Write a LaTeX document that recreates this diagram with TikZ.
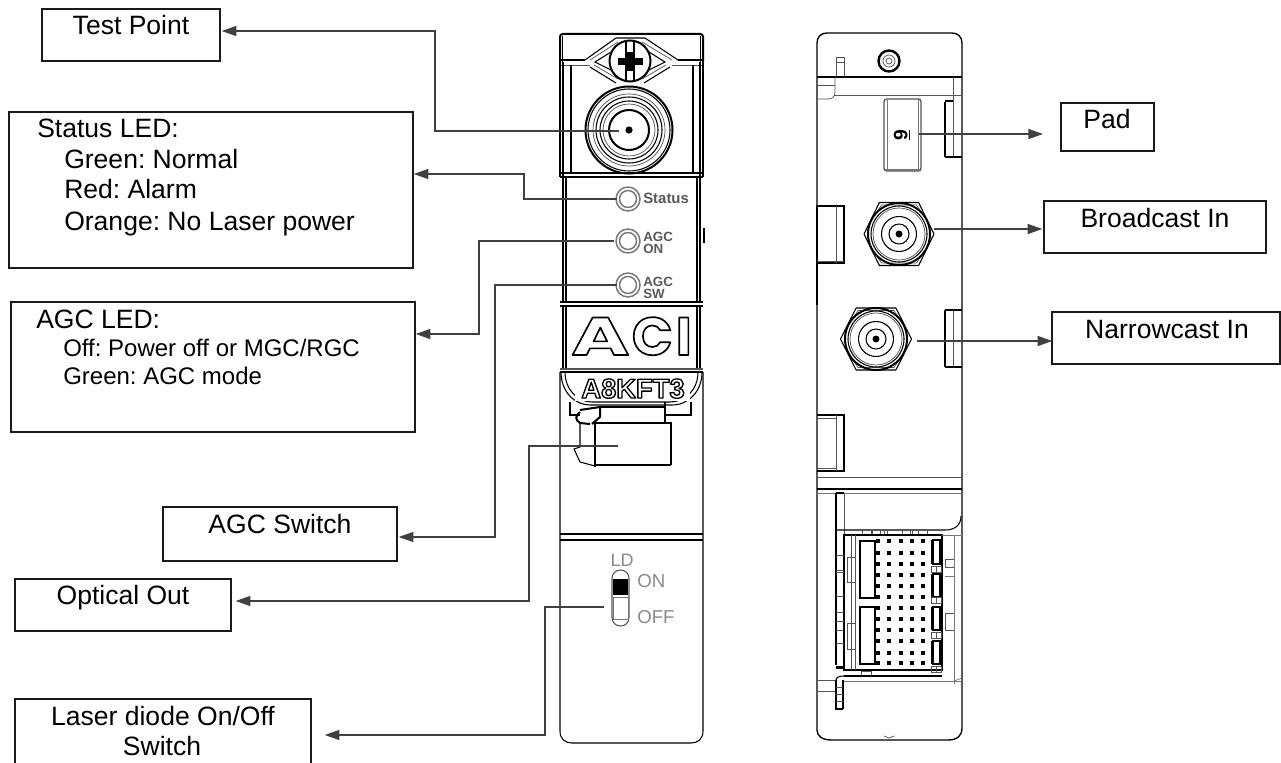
\documentclass[tikz,border=0pt]{standalone}
\usepackage{fontspec}
\setmainfont{Liberation Sans}
\newfontfamily\logofont{Poppins}[UprightFont=* Bold]
\usetikzlibrary{arrows.meta,calc}
\definecolor{conn}{HTML}{404040}
\definecolor{boxc}{HTML}{1A1A1A}
\definecolor{devg}{HTML}{555555}
\definecolor{ledg}{HTML}{777777}
\definecolor{lblg}{HTML}{8A8A8A}
\newcommand{\pxs}{0.75pt}
\newcommand{\outlinetext}[2]{\special{pdf:code q 1 Tr #1 w 1 j}#2\special{pdf:code Q}}
\frenchspacing
\tikzset{
  lbox/.style={draw=boxc,line width=1.1pt,fill=none,inner sep=0pt},
  ltxt/.style={anchor=base,inner sep=0pt,font=\fontsize{19.9}{20}\selectfont},
  ltxl/.style={anchor=base west,inner sep=0pt,font=\fontsize{19.9}{20}\selectfont},
  lsub/.style={anchor=base west,inner sep=0pt,font=\fontsize{18}{20}\selectfont},
  arr/.style={draw=conn,line width=1.1pt,-{Triangle[length=11pt,width=7.5pt]}},
  dev/.style={draw=black,line width=0.8pt},
  devt/.style={draw=black,line width=1.5pt},
  devf/.style={draw=devg,line width=0.55pt},
  devl/.style={draw=ledg,line width=0.5pt},
  led/.style={draw=ledg,line width=1.1pt},
  ledt/.style={inner sep=0pt,text=black!65,font=\fontsize{10}{10}\selectfont\bfseries,anchor=base west},
  lsw/.style={inner sep=0pt,text=lblg,font=\fontsize{14}{14}\selectfont},
}
% name, x1, y1, x2, y2 in pixels
\newcommand{\labelbox}[5]{%
  \node[lbox,minimum width={(#4-#2)*\pxs},minimum height={(#5-#3)*\pxs}] (#1) at ({(#2+#4)/2},{(#3+#5)/2}) {};}
\newcommand{\hexnut}[5]{% name cx cy halfwidth halfheight
  \begin{scope}[shift={(#2,#3)}]
    \draw[dev,line join=round] (-#4,0) -- ({-#4*.56},-#5) -- ({#4*.56},-#5) -- (#4,0) -- ({#4*.56},#5) -- ({-#4*.56},#5) -- cycle;
    \draw[devf] ({-#4*.88},{-#5*.3}) -- ({-#4*.5},{-#5*.92}) -- ({#4*.5},{-#5*.92}) -- ({#4*.88},{-#5*.3});
    \draw[devf] ({-#4*.88},{#5*.3}) -- ({-#4*.5},{#5*.92}) -- ({#4*.5},{#5*.92}) -- ({#4*.88},{#5*.3});
    \draw[devt] (0,0) circle[radius=31];
    \draw[dev] (0,0) circle[radius=28];
    \draw[devf] (0,0) circle[radius=26];
    \draw[dev] (0,0) circle[radius=17.5];
    \draw[dev] (0,0) circle[radius=10];
    \fill[black] (0,0) circle[radius=3.5];
    \node[inner sep=0pt,minimum size=0pt] (#1) at (0,0) {};
  \end{scope}}
\begin{document}
\begin{tikzpicture}[x=0.75pt,y=-0.75pt]
\useasboundingbox (0,0) rectangle (1281,763);
\fill[white] (0,0) rectangle (1281,763);

%% ================= FRONT VIEW =================
% top band
\draw[devt,rounded corners=2pt] (560,62) -- (560,34) -- (703,34) -- (703,62);
\draw[dev] (562.5,36) -- (562.5,62) (700.5,36) -- (700.5,62);
\draw[dev] (560,60) -- (585,60) (678,60) -- (703,60);
\draw[devf] (560,65) -- (590,65) (672,65) -- (703,65);
% wings around the screw
\draw[dev] (585,60) -- (616,38) -- (645,38) -- (678,60);
\draw[devf] (590,60) -- (618,42) (642,42) -- (672,60);
\draw[dev] (595,62) -- (611,52) -- (611,70) -- cycle;
\draw[dev] (665,62) -- (649,52) -- (649,70) -- cycle;
\draw[dev] (590,67) -- (616,83) (670,67) -- (644,83);
\draw[devf] (594,65) -- (618,79) (666,65) -- (642,79);
% screw
\draw[devt,fill=white] (630,61) circle[radius=20.5];
\draw[dev] (626,41) -- (626,81) (634,41) -- (634,81);
\fill[black] (618,58) rectangle (643,65.5);
\fill[black] (625.5,52) rectangle (634.5,71);
% body walls of connector part
\draw[dev] (560,62) -- (560,177) (563,62) -- (563,177) (703,62) -- (703,177) (700,62) -- (700,177);
\draw[dev] (571,65) -- (571,173) (693,65) -- (693,173);
% test point connector
\draw[devt] (629,130) circle[radius=43.5];
\draw[dev] (629,130) circle[radius=41];
\draw[devf] (629,130) circle[radius=36];
\draw[dev] (629,130) circle[radius=33];
\draw[dev] (629,130) circle[radius=29];
\draw[devf] (629,130) circle[radius=26];
\draw[devt] (629,130) circle[radius=20];
\fill[black] (629,130) circle[radius=3.6];
\node[inner sep=0pt,minimum size=0pt] (tpc) at (619,131) {};
% separators
\draw[devt] (560,173) -- (703,173);
\draw[dev] (560,177) -- (703,177);
% LED panel
\draw[dev] (563,177) -- (563,302) (566,177) -- (566,302);
\draw[dev] (700,177) -- (700,302) (697,177) -- (697,302);
\draw[line width=1.2pt] (704,228) -- (704,243);
\draw[devt] (560,302) -- (703,302);
\draw[dev] (560,306) -- (703,306);
% LEDs
\foreach \n/\y in {ledst/199,ledon/241,ledsw/285}{
  \draw[led] (628,\y) circle[radius=12];
  \draw[led] (628,\y) circle[radius=8.5];
  \node[inner sep=0pt,minimum size=0pt] (\n) at (628,\y) {};
}
\node[ledt,font=\fontsize{11.2}{11}\selectfont\bfseries] (lst) at (643,204) {Status};
\node[ledt] (lon1) at (643,241) {AGC};
\node[ledt] (lon2) at (643,253) {ON};
\node[ledt] (lsw1) at (643,286) {AGC};
\node[ledt] (lsw2) at (643,298) {SW};
% ACI panel
\draw[dev] (563,306) -- (563,369) (566,306) -- (566,369) (700,306) -- (700,369) (697,306) -- (697,369);
\node[inner sep=0pt,anchor=base west] (logo) at (571,355)
  {\logofont\fontsize{40}{40}\selectfont\outlinetext{1.25}{\makebox[45.5pt][l]{\addfontfeature{FakeStretch=1.48}A}\makebox[33pt][l]{C}I}};
\draw[devg,line width=1.1pt] (560,369) -- (703,369);
\draw[dev] (560,372) -- (703,372);
% rounded lower part of label
\draw[dev] (561,372) .. controls (561,392) and (575,405) .. (590,405) -- (672,405) .. controls (688,405) and (702,392) .. (702,372);
\draw[dev] (565,372) .. controls (565,390) and (578,402) .. (592,402) -- (670,402) .. controls (685,402) and (698,390) .. (698,372);
\fill[white] (575,374) rectangle (690,401);
\node[inner sep=0pt,anchor=base] (model) at (633,398)
  {\bfseries\fontsize{20.5}{21}\selectfont\outlinetext{1.0}{A8KFT3}};
% body below
\draw[dev] (560,372) -- (560,731) .. controls (560,739) and (565,743) .. (572,743) -- (691,743) .. controls (698,743) and (703,739) .. (703,731) -- (703,372);
% latch
\draw[dev] (570,402) -- (570,415) -- (580,415);
\draw[dev] (691,402) -- (691,415) -- (665,415);
\draw[dev] (600,407) -- (665,407);
\draw[devt] (665,402) -- (665,423);
\draw[devt] (580,412) .. controls (575,416) and (575,420) .. (580,423) -- (590,424);
\draw[devt] (580,410) -- (600,407) -- (600,417) -- (592,424);
\draw[dev] (580,423) -- (580,447) -- (574,449) -- (580,462) -- (595,466);
\draw[devt] (595,423) -- (671,423);
\draw[line width=2.2pt] (671,422) -- (671,465);
\draw[devt] (595,465) -- (671,465);
\draw[dev] (595,423) -- (595,467);
% divider
\draw[devt] (560,534) -- (703,534);
\draw[devt] (560,540) -- (703,540);
% LD switch
\node[lsw,font=\fontsize{13.5}{14}\selectfont] (ld) at (622,560) {LD};
\node[lsw,anchor=west] (son) at (637,581) {ON};
\node[lsw,anchor=west] (soff) at (637,617) {OFF};
\draw[draw=devg,line width=0.8pt,rounded corners=6.2pt] (612,570) rectangle (629,626);
\fill[black] (613,579) rectangle (628,595);
\draw[devl] (613,597) rectangle (628,619);
\node[inner sep=0pt,minimum size=0pt] (ldsw) at (604,607) {};

%% ================= BACK VIEW =================
\draw[dev,line width=1pt] (827,33) -- (952,33) .. controls (958,33) and (962,37) .. (962,43) -- (962,157);
\draw[dev,line width=1pt] (827,33) .. controls (821,33) and (817,37) .. (817,43) -- (817,99);
\draw[dev,line width=1pt] (817,99) -- (817,730) .. controls (817,736) and (822,740) .. (832,740) -- (948,740) .. controls (957,740) and (962,736) .. (962,728) -- (962,157);
\draw[line width=1pt,draw=black] (817,205) -- (817,305);
% top connector
\draw[line width=1.8pt] (889,61) circle[radius=10.5];
\draw[devf] (889,61) circle[radius=6];
\draw[devf] (889,61) circle[radius=3];
% top stripes
\draw[devf] (836,76) -- (836,57) -- (844,57) -- (844,76);
\draw[devf] (836,62) -- (844,62);
\draw[dev] (817,77) -- (962,77);
\draw[devf] (834,95) -- (962,95);
\draw[devf] (817,85) -- (835,85);
\draw[devf] (835,77) -- (835,92) .. controls (835,97) and (832,99) .. (828,99) -- (817,99);
\draw[devf] (953,77) -- (953,157);
\draw[dev] (945,102) -- (945,157);
\draw[dev] (945,101) -- (953,101);
\draw[dev] (945,157) -- (962,157);
% pad
\draw[draw=devg,line width=1pt,rounded corners=2pt] (884,99) rectangle (921,171);
\draw[devl] (887,100) -- (887,170) (918,100) -- (918,170);
\draw[devl,line width=1pt] (885,170) -- (920,170);
\node[inner sep=0pt,rotate=90,font=\fontsize{14.5}{15}\selectfont\bfseries] (pad9) at (902,135) {\underline{9}};
% left tab
\draw[dev] (817,206) -- (844,206) -- (844,263) -- (817,263);
\draw[devf] (836,206) -- (836,263);
\draw[devf] (817,261) -- (844,261);
% nuts
\hexnut{bnut}{899}{234}{35}{31.5}
\hexnut{nnut}{876}{339}{35.5}{31}
% second right tab
\draw[dev] (945,310) -- (945,367);
\draw[devf] (953,310) -- (953,367);
\draw[dev] (945,310) -- (962,310);
\draw[dev] (945,367) -- (962,367);
% third left tab
\draw[dev] (817,415) -- (844,415) -- (844,471) -- (817,471);
\draw[devf] (836,415) -- (836,471);
\draw[devf] (817,418) -- (836,418) (817,468) -- (836,468);
% stripes
\draw[devf] (817,477) -- (962,477);
\draw[dev] (817,489) -- (962,489);
\draw[devl] (817,493) -- (962,493);
% upper part of connector zone
\draw[dev] (836,493) -- (844,493);
\draw[dev] (836,493) -- (836,665);
\draw[devf] (844,493) -- (844,535);
\draw[dev] (836,530) -- (945,530) .. controls (955,530) and (961,525) .. (961,516);
\foreach \a/\b in {862/871,872/880,884/887,902/910,912/918,918/927}{\draw[devf] (\a,530) rectangle (\b,535);}
% connector block
\draw[dev] (844,535) rectangle (942,670);
\draw[devf] (851,535) -- (851,670) (855,535) -- (855,670);
\draw[dev] (860,541) rectangle (875,598);
\draw[dev] (860,607) rectangle (875,664);
\foreach \y [count=\r] in {541,553,564,575,586,597,608,619,630,641,653,663}{
  \foreach \x/\s in {878/2.4,889/1.9,901/2.4,912/1.8,923/2.4}{
    \fill[black] ({\x-\s},{\y-\s}) rectangle ({\x+\s},{\y+\s});
  }
}
\foreach \a/\b in {540/564,574/597,607/630,641/664}{
  \draw[dev] (933,\a) rectangle (940,\b);
  \fill[black] (931,\a) rectangle (933,\b);
}
\foreach \a in {566,597,632,666}{\draw[devf] (931,\a) rectangle (936,{\a+6}) (936,\a) rectangle (941,{\a+6});}
\draw[devf] (847,557) rectangle (855,582);
\draw[devf] (847,623) rectangle (855,649);
\draw[devf] (945,559) rectangle (954,567);
\draw[devf] (945,613) rectangle (954,630);
\draw[devl] (954,535) -- (954,684);
\draw[devl] (942,535) -- (962,535);
\draw[devl] (945,576) -- (954,576);
\draw[devf] (836,555) -- (844,555) (836,570) -- (844,570) (836,572) -- (844,572) (836,596) -- (844,596) (836,612) -- (844,612) (836,621) -- (844,621) (836,630) -- (844,630) (836,643) -- (844,643);
\fill[black] (836,666) rectangle (844,669);
% below the block
\draw[devf] (861,671) rectangle (871,676);
\draw[dev] (844,676) -- (942,676);
\draw[dev] (836,686) -- (836,680) .. controls (836,677) and (840,676) .. (844,676);
\draw[devl] (843,681) -- (962,681);
\draw[devl] (954,681) -- (962,678);
\draw[devf] (817,680) -- (836,680) (817,691) -- (836,691);
\draw[dev] (836,680) -- (836,709) -- (843,709) (843,680) -- (843,709);
\draw[devf] (836,687) -- (843,687) (836,694) -- (843,694) (836,701) -- (843,701);
% bottom notch
\draw[devf] (884,736) -- (889,738) -- (894,736);

%% ================= LABEL BOXES =================
\labelbox{tp}{42}{9}{220}{61}
\node[ltxt] (tpt) at (131,35) {Test Point};
\labelbox{st}{9}{112}{413}{268}
\node[ltxl] (stt) at (37,138) {Status LED:};
\node[ltxl] (st1) at (64,169) {Green: Normal};
\node[ltxl] (st2) at (64,199) {Red: Alarm};
\node[ltxl] (st3) at (64,230) {Orange: No Laser power};
\labelbox{ag}{11}{302}{415}{432}
\node[ltxl] (agt) at (36,328) {AGC LED:};
\node[lsub] (ag1) at (63,356) {Off: Power off or MGC/RGC};
\node[lsub] (ag2) at (63,384) {Green: AGC mode};
\labelbox{sw}{163}{507}{397}{561}
\node[ltxt] (swt) at (280,533) {AGC Switch};
\labelbox{op}{15}{579}{231}{631}
\node[ltxt] (opt) at (123,604) {Optical Out};
\labelbox{ls}{15}{699}{311}{771}
\node[ltxt] (ls1) at (163,725) {Laser diode On/Off};
\node[ltxt] (ls2) at (162,755) {Switch};
\labelbox{pd}{1061}{103}{1154}{151}
\node[ltxt] (pdt) at (1107,129) {Pad};
\labelbox{br}{1044}{201}{1266}{253}
\node[ltxt] (brt) at (1155,227) {Broadcast In};
\labelbox{na}{1052}{312}{1280}{364}
\node[ltxt] (nat) at (1167,338) {Narrowcast In};

%% ================= CONNECTORS =================
\coordinate (c1) at (435,31);
\coordinate (c2) at (524,174);
\coordinate (c3) at (479,334);
\coordinate (c4) at (495,537);
\coordinate (c5) at (529,601);
\coordinate (c6) at (545,735);
\draw[arr] (tpc) -| (c1) -- ($(tp.east)+(1,-4)$);
\draw[arr] ($(ledst)+(-11,0)$) -| (c2) -- ($(st.east)+(0,-16)$);
\draw[arr] ($(ledon)+(-14,0)$) -| (c3) -- ($(ag.east)+(0,-33)$);
\draw[arr] ($(ledsw)+(-11,0)$) -| (c4) -- ($(sw.east)+(1,3)$);
\coordinate (c5s) at (618,446);
\draw[arr] (c5s) -| (c5) -- ($(op.east)+(4,-4)$);
\draw[arr] (ldsw) -| (c6) -- ($(ls.east)+(13,0)$);
\coordinate (p1) at (919,134);
\draw[arr] (p1) -- (1043,134);
\coordinate (p2) at (934,229);
\draw[arr] (p2) -- ($(br.west)+(-1,2)$);
\coordinate (p3) at (917,341);
\draw[arr] (p3) -- ($(na.west)+(1,3)$);
\end{tikzpicture}
\end{document}
